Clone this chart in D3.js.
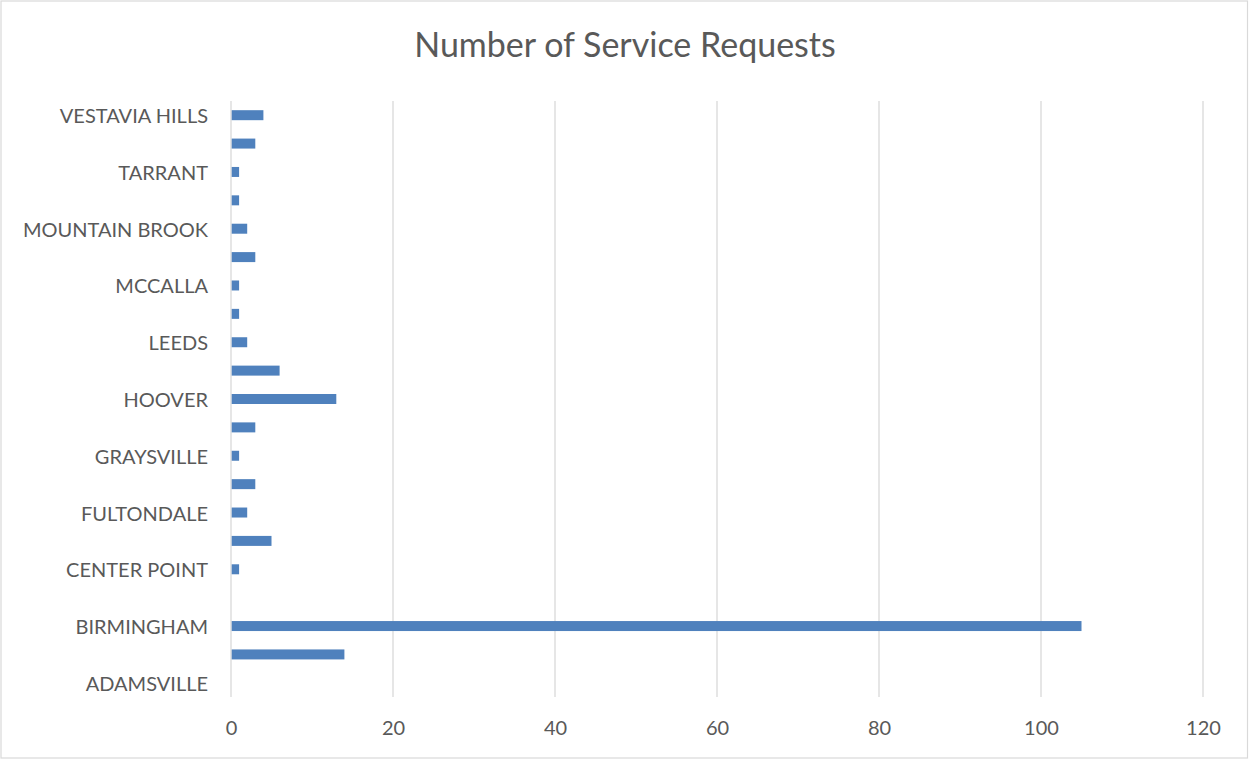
<!DOCTYPE html>
<html>
<head>
<meta charset="utf-8">
<script src="https://cdn.jsdelivr.net/npm/d3@7"></script>
<style>
  html, body { margin: 0; padding: 0; background: #fff; }
  svg { display: block; }
  text { font-family: Lato, "Open Sans", sans-serif; }
</style>
</head>
<body>
<svg id="chart" width="1249" height="760"></svg>
<script>
// Municipalities, listed alphabetically from the bottom of the chart upward
const categories = [
  "ADAMSVILLE", "BESSEMER", "BIRMINGHAM", "BRIGHTON", "CENTER POINT",
  "FAIRFIELD", "FULTONDALE", "GARDENDALE", "GRAYSVILLE", "HOMEWOOD",
  "HOOVER", "IRONDALE", "LEEDS", "LIPSCOMB", "MCCALLA",
  "MIDFIELD", "MOUNTAIN BROOK", "PINSON", "TARRANT", "TRUSSVILLE",
  "VESTAVIA HILLS"
];
const requests = [
  0, 14, 105, 0, 1,
  5, 2, 3, 1, 3,
  13, 6, 2, 1, 1,
  3, 2, 1, 1, 3,
  4
];
const xTicks = [0, 20, 40, 60, 80, 100, 120];
const title = "Number of Service Requests";

const rows = categories.map((c, i) => ({ name: c, value: requests[i] }));

const W = 1249, H = 760;
const plot = { left: 231, right: 1203, top: 101, bottom: 697 };

const svg = d3.select("#chart");

// chart frame
svg.append("rect")
  .attr("x", 1).attr("y", 1)
  .attr("width", W - 2.5).attr("height", H - 3)
  .attr("fill", "#fff")
  .attr("stroke", "#d9d9d9")
  .attr("stroke-width", 1.2);

// title
svg.append("text")
  .attr("x", 625).attr("y", 57)
  .attr("text-anchor", "middle")
  .attr("font-size", 34)
  .attr("fill", "#595959")
  .text(title);

const x = d3.scaleLinear()
  .domain([0, 120])
  .range([plot.left, plot.right]);

const y = d3.scaleBand()
  .domain(categories.slice().reverse())
  .range([plot.top, plot.bottom])
  .paddingInner(0.648)
  .paddingOuter(0.324);

// vertical gridlines
svg.append("g")
  .selectAll("line")
  .data(xTicks)
  .join("line")
  .attr("x1", d => x(d)).attr("x2", d => x(d))
  .attr("y1", plot.top).attr("y2", plot.bottom)
  .attr("stroke", "#d9d9d9")
  .attr("stroke-width", 1.3);

// bars
svg.append("g")
  .selectAll("rect")
  .data(rows)
  .join("rect")
  .attr("x", x(0) + 0.7)
  .attr("y", d => y(d.name))
  .attr("width", d => Math.max(0, x(d.value) - x(0) - 0.7))
  .attr("height", y.bandwidth())
  .attr("fill", "#4f81bd");

// x axis labels
const xAxis = d3.axisBottom(x)
  .tickValues(xTicks)
  .tickSize(0)
  .tickPadding(0);
const gx = svg.append("g")
  .attr("transform", `translate(0,${plot.bottom + 24})`)
  .call(xAxis);
gx.select(".domain").remove();
gx.selectAll("text")
  .attr("font-size", 20)
  .attr("fill", "#595959")
  .attr("font-family", "Lato, 'Open Sans', sans-serif");

// y axis labels: every other category is labelled
const yAxis = d3.axisLeft(y)
  .tickValues(categories.filter((c, i) => i % 2 === 0))
  .tickSize(0)
  .tickPadding(23);
const gy = svg.append("g")
  .attr("transform", `translate(${plot.left},0)`)
  .call(yAxis);
gy.select(".domain").remove();
gy.selectAll("text")
  .attr("font-size", 20)
  .attr("dy", "0.4em")
  .attr("fill", "#595959")
  .attr("font-family", "Lato, 'Open Sans', sans-serif");
</script>
</body>
</html>
